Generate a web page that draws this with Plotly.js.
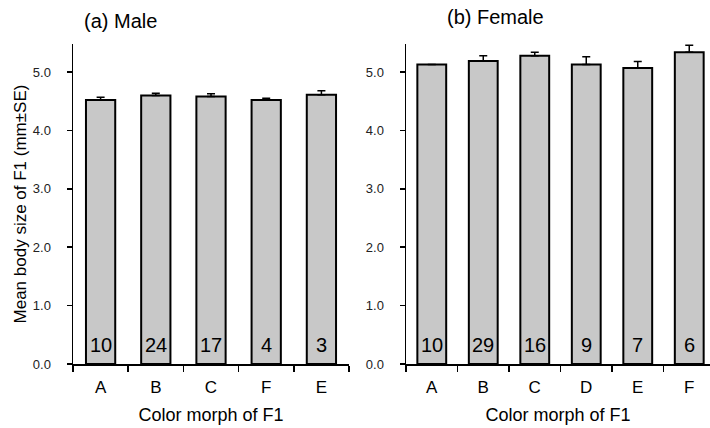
<!DOCTYPE html>
<html>
<head>
<meta charset="utf-8">
<script src="https://cdn.plot.ly/plotly-3.0.1.min.js"></script>
<style>html,body{margin:0;padding:0;background:#fff;}#chart{width:710px;height:428px;}</style>
</head>
<body>
<div id="chart"></div>
<script>
// Male
const maleMorphs = ['A', 'B', 'C', 'F', 'E'];
const maleMeans  = [4.52, 4.60, 4.58, 4.52, 4.61];
const maleSE     = [0.05, 0.035, 0.05, 0.03, 0.07];
const maleN      = [10, 24, 17, 4, 3];
// Female
const femaleMorphs = ['A', 'B', 'C', 'D', 'E', 'F'];
const femaleMeans  = [5.13, 5.19, 5.28, 5.13, 5.07, 5.34];
const femaleSE     = [0, 0.09, 0.06, 0.13, 0.11, 0.12];
const femaleN      = [10, 29, 16, 9, 7, 6];

const FONT = 'Liberation Sans, Arial, sans-serif';
const barFill = '#c8c8c8';

function barTrace(x, y, se, xa, ya, width) {
  return {
    type: 'bar', x: x, y: y, xaxis: xa, yaxis: ya, width: width,
    marker: {color: barFill, line: {color: '#000', width: 2}},
    error_y: {type: 'data', symmetric: false, array: se, arrayminus: se.map(() => 0),
              color: '#000', thickness: 1.5, width: 4},
    hoverinfo: 'skip', showlegend: false
  };
}

function countLabels(x, n, xa, ya) {
  return x.map((c, i) => ({
    text: String(n[i]), xref: xa, yref: ya, x: c, y: 0,
    xanchor: 'center', yanchor: 'middle', yshift: 19, showarrow: false,
    font: {family: FONT, size: 20, color: '#000'}
  }));
}

const data = [
  barTrace(maleMorphs, maleMeans, maleSE, 'x', 'y', 0.53),
  barTrace(femaleMorphs, femaleMeans, femaleSE, 'x2', 'y2', 0.56)
];

const yCommon = {
  range: [0, 5.48], dtick: 1, tick0: 0, tickformat: '.1f',
  showline: true, linecolor: '#000', linewidth: 1.5,
  ticks: 'outside', ticklen: 5, tickwidth: 1.5, tickcolor: '#000',
  showgrid: false, zeroline: false, ticklabelstandoff: 13,
  tickfont: {family: FONT, size: 13, color: '#222'}
};
const xCommon = {
  type: 'category', showline: true, linecolor: '#000', linewidth: 1.5,
  ticks: 'outside', ticklen: 6, tickwidth: 1.5, tickcolor: '#000',
  tickson: 'boundaries', showgrid: false, zeroline: false,
  ticklabelstandoff: 7,
  tickfont: {family: FONT, size: 17, color: '#000'},
  title: {text: 'Color morph of F1', font: {family: FONT, size: 18, color: '#000'}, standoff: 12}
};

const layout = {
  width: 710, height: 428,
  margin: {l: 73, r: 0, t: 44, b: 64},
  paper_bgcolor: '#fff', plot_bgcolor: '#fff',
  font: {family: FONT, color: '#000'},
  xaxis: Object.assign({}, xCommon, {domain: [0, 0.4333], range: [-0.5, 4.5], anchor: 'y'}),
  yaxis: Object.assign({}, yCommon, {domain: [0, 1], anchor: 'x',
    title: {text: 'Mean body size of F1 (mm±SE)', font: {family: FONT, size: 17, color: '#000'}, standoff: 2}}),
  xaxis2: Object.assign({}, xCommon, {domain: [0.5228, 1], range: [-0.5, 5.403], anchor: 'y2'}),
  yaxis2: Object.assign({}, yCommon, {domain: [0, 1], anchor: 'x2'}),
  annotations: [
    {text: '(a) Male', xref: 'paper', yref: 'paper', x: 0.014, y: 1.072,
     xanchor: 'left', yanchor: 'middle', showarrow: false,
     font: {family: FONT, size: 20, color: '#000'}},
    {text: '(b) Female', xref: 'paper', yref: 'paper', x: 0.5840, y: 1.085,
     xanchor: 'left', yanchor: 'middle', showarrow: false,
     font: {family: FONT, size: 20, color: '#000'}}
  ].concat(countLabels(maleMorphs, maleN, 'x', 'y'), countLabels(femaleMorphs, femaleN, 'x2', 'y2'))
};

Plotly.newPlot('chart', data, layout, {displayModeBar: false, staticPlot: true});
</script>
</body>
</html>
